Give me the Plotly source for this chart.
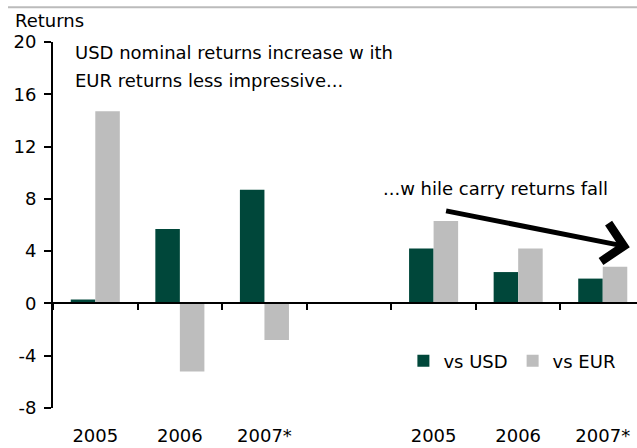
import plotly.graph_objects as go

categories = ["2005", "2006", "2007*", "", "2005", "2006", "2007*"]
vs_usd = [0.3, 5.7, 8.7, None, 4.2, 2.4, 1.9]
vs_eur = [14.7, -5.2, -2.8, None, 6.3, 4.2, 2.8]
y_ticks = [-8, -4, 0, 4, 8, 12, 16, 20]

GREEN = "#00473A"
GRAY = "#BDBDBD"
FONT = "DejaVu Sans"

x = list(range(len(categories)))
boundaries = [i - 0.5 for i in x]
x_range = [-0.5, len(categories) - 0.595]
y_min, y_max = -8, 20

fig = go.Figure()
fig.add_trace(go.Bar(x=x, y=vs_usd, name="vs USD", marker=dict(color=GREEN, line=dict(width=0))))
fig.add_trace(go.Bar(x=x, y=vs_eur, name="vs EUR", marker=dict(color=GRAY, line=dict(width=0))))
# invisible helper trace for the zero-line category axis
fig.add_trace(go.Scatter(x=x, y=vs_eur, xaxis="x2", mode="markers",
                         marker=dict(opacity=0), showlegend=False, hoverinfo="skip"))

fig.update_layout(
    width=637, height=448,
    margin=dict(l=53, r=0, t=42, b=40),
    paper_bgcolor="white", plot_bgcolor="white",
    font=dict(family=FONT, size=18, color="black"),
    barmode="group", bargap=0.42, bargroupgap=0,
    showlegend=True,
    legend=dict(orientation="h", x=0.6, xanchor="left", y=0.128, yanchor="middle",
                font=dict(size=18, family=FONT), bgcolor="rgba(0,0,0,0)",
                itemwidth=30, traceorder="normal"),
    xaxis=dict(range=x_range, tickmode="array", tickvals=x, ticktext=categories,
               showline=False, ticks="", showgrid=False, zeroline=False,
               ticklabelstandoff=15, automargin=False,
               tickfont=dict(size=18, family=FONT)),
    xaxis2=dict(range=x_range, overlaying="x", anchor="free",
                position=(0 - y_min) / (y_max - y_min),
                tickmode="array", tickvals=boundaries, showticklabels=False,
                ticks="outside", ticklen=6, tickwidth=2, tickcolor="black",
                showline=True, linecolor="black", linewidth=2,
                showgrid=False, zeroline=False),
    yaxis=dict(range=[y_min, y_max], tickmode="array", tickvals=y_ticks,
               ticktext=[str(v) for v in y_ticks],
               ticks="outside", ticklen=7, tickwidth=2, tickcolor="black",
               showline=True, linecolor="black", linewidth=2,
               showgrid=False, zeroline=False, ticklabelstandoff=4,
               automargin=False, tickfont=dict(size=18, family=FONT)),
)

# top decorative rule
fig.add_shape(type="line", xref="paper", yref="paper",
              x0=(8 - 53) / 584, x1=1.0, y0=(407.7 - 7) / 366, y1=(407.7 - 7) / 366,
              line=dict(color="#BBBBBB", width=2))

fig.add_annotation(text="Returns", xref="paper", yref="paper",
                   x=(13 - 53) / 584, y=(407.7 - 20) / 366, xanchor="left", yanchor="middle",
                   showarrow=False, font=dict(size=18, family=FONT))
fig.add_annotation(text="USD nominal returns increase w ith", xref="paper", yref="paper",
                   x=(73 - 53) / 584, y=(407.7 - 52) / 366, xanchor="left", yanchor="middle",
                   showarrow=False, font=dict(size=18, family=FONT))
fig.add_annotation(text="EUR returns less impressive...", xref="paper", yref="paper",
                   x=(73 - 53) / 584, y=(407.7 - 80) / 366, xanchor="left", yanchor="middle",
                   showarrow=False, font=dict(size=18, family=FONT))
fig.add_annotation(text="...w hile carry returns fall", xref="paper", yref="paper",
                   x=(381 - 53) / 584, y=(407.7 - 188) / 366, xanchor="left", yanchor="middle",
                   showarrow=False, font=dict(size=18, family=FONT))
# trend arrow
fig.add_annotation(x=6.32, y=4.3, ax=4.13, ay=7.1, xref="x", yref="y", axref="x", ayref="y",
                   text="", showarrow=True, arrowhead=4, arrowsize=1.5, arrowwidth=5,
                   arrowcolor="black")

fig.write_html("out.html", config={"displayModeBar": False},
               post_script="document.body.style.margin='0';")
